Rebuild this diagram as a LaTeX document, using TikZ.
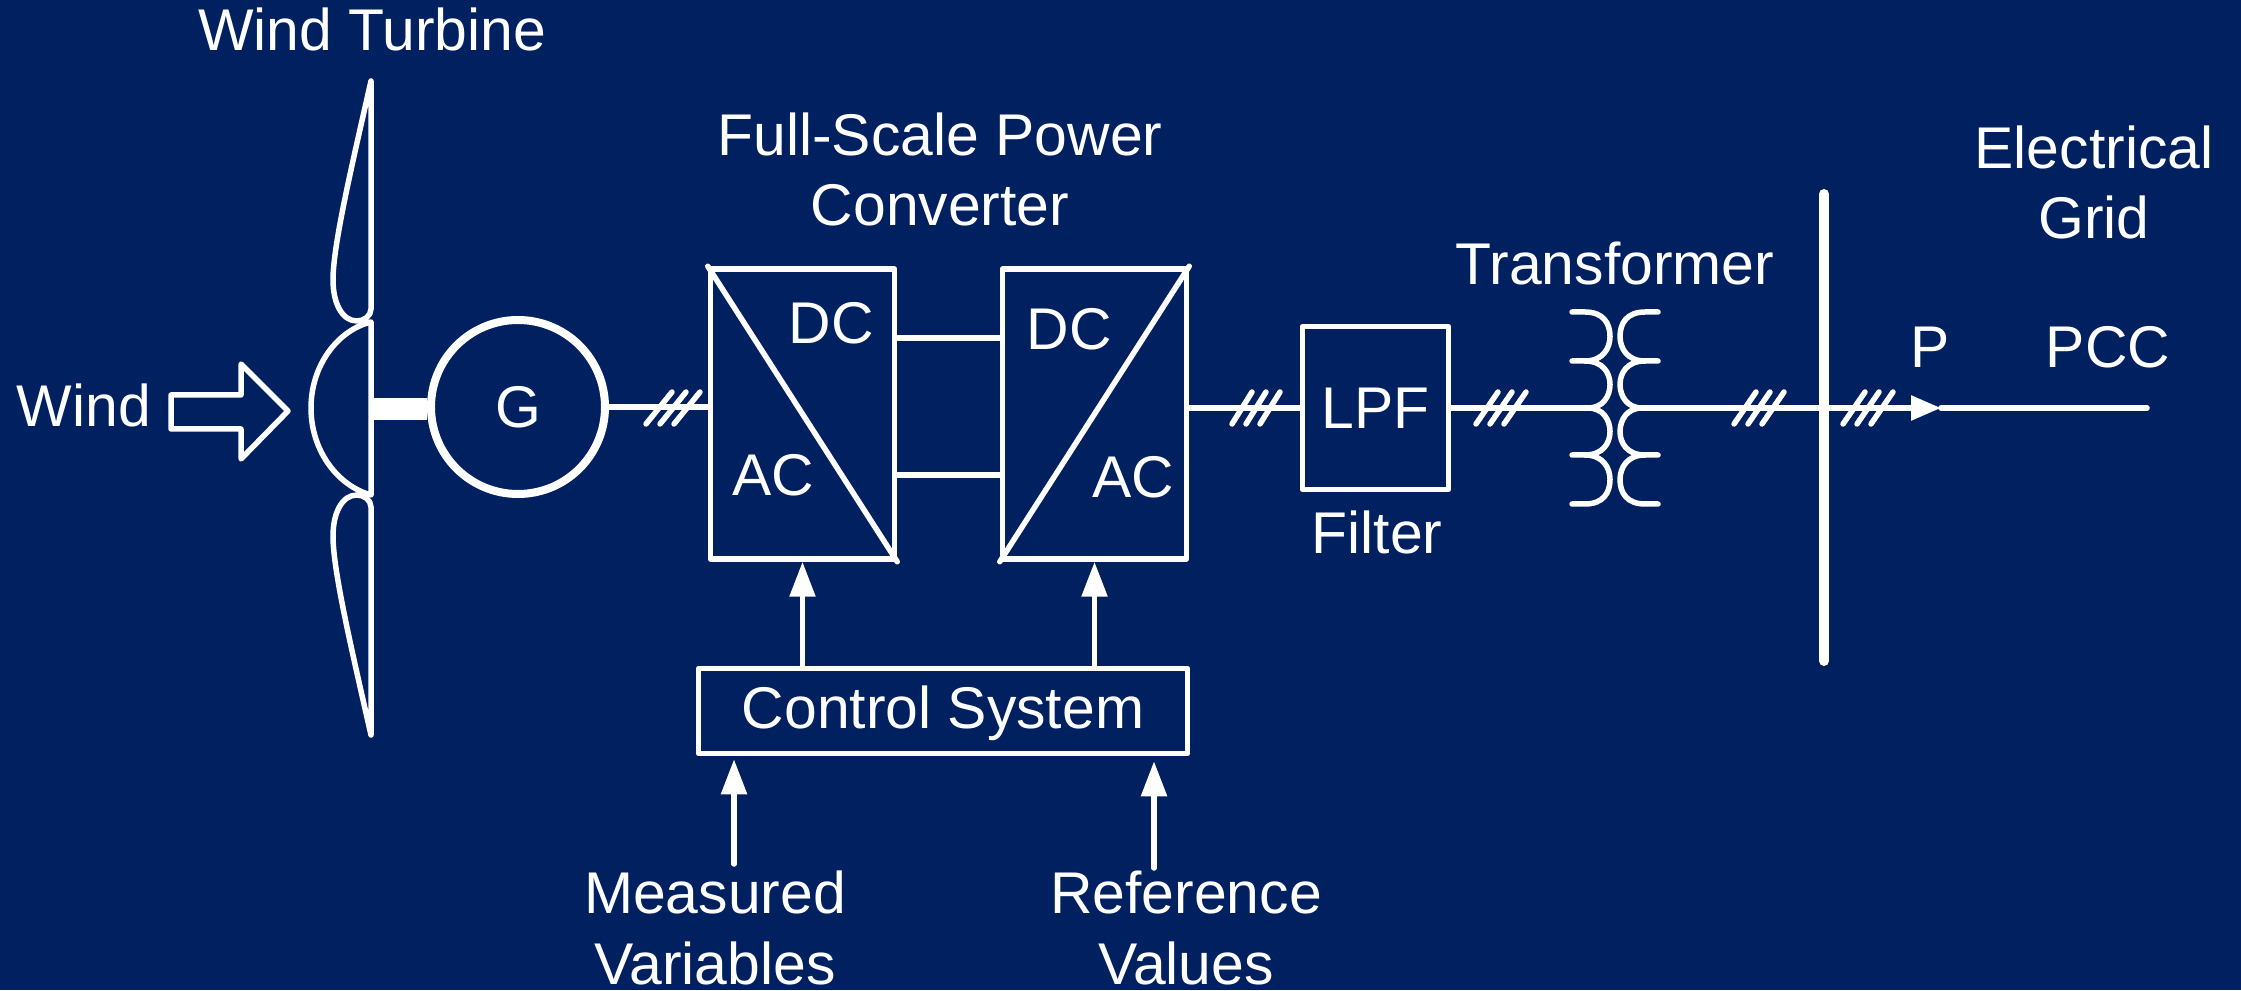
\documentclass[tikz,border=0pt]{standalone}
\usepackage{fontspec}
\setmainfont{Liberation Sans}
\usetikzlibrary{arrows.meta,positioning}
\definecolor{mBack}{RGB}{0,32,96}
\tikzset{
    wire/.style={white, line width=0.055cm, line cap=round, line join=round},
    sigarrow/.style={wire, -{Triangle[length=0.35cm,width=0.25cm]}},
    label/.style={white, inner sep=0pt, anchor=base, align=center, font=\fontsize{16.75}{20}\selectfont},
    block/.style={wire, draw, inner sep=0pt, font=\fontsize{16.75}{20}\selectfont, text=white},
}

\begin{document}
\begin{tikzpicture}
    \fill[mBack] (0,0) rectangle (22.41,9.90);
    \useasboundingbox (0,0) rectangle (22.41,9.90);

    % turbine
    \foreach \side in {1,-1} {
        \begin{scope}[shift={(0,5.82)},yscale=\side]
            \draw[wire] (3.71,3.27) -- (3.71,0.99) .. controls (3.71,0.92) and (3.64,0.87) .. (3.57,0.87)
                .. controls (3.42,0.87) and (3.33,1.05) .. (3.33,1.28)
                .. controls (3.33,1.63) and (3.52,2.43) .. (3.71,3.27);
        \end{scope}
    }
    \draw[wire] (3.71,6.68) .. controls (3.38,6.60) and (3.11,6.25) .. (3.11,5.82)
        .. controls (3.11,5.39) and (3.38,5.04) .. (3.71,4.95) -- cycle;
    \coordinate (hubC) at (3.71,5.81);
    \draw[wire] (1.71,5.95) -- (2.41,5.95) -- (2.41,6.26) -- (2.88,5.79) -- (2.41,5.31) -- (2.41,5.61) -- (1.71,5.61) -- cycle;

    \node[block, circle, line width=0.08cm, minimum size=1.74cm] (gen) at (5.18,5.83) {G};
    \draw[white, line width=0.22cm] (hubC) -- (hubC -| gen.west);

    % converter
    \node[block, minimum width=1.84cm, minimum height=2.90cm] (convA) at (8.025,5.76) {};
    \node[block, minimum width=1.84cm, minimum height=2.90cm] (convB) at (10.945,5.76) {};
    \draw[wire] (convA.north west) -- (convA.south east);
    \draw[wire] (convB.south west) -- (convB.north east);
    \node[block, minimum width=1.46cm, minimum height=1.63cm] (lpf) at (13.755,5.82) {LPF};
    \node[block, minimum width=4.89cm, minimum height=0.85cm, text depth=2pt] (ctrl) at (9.43,2.79) {Control System};

    \node[label] (windT) at (0.84,5.63) {Wind};
    \node[label] (turbT) at (3.72,9.39) {Wind Turbine};
    \node[label] (convT) at (9.40,7.64) {Full-Scale Power\\Converter};
    \node[label] (gridT) at (20.94,7.51) {Electrical\\Grid};
    \node[label] (tranT) at (16.15,7.05) {Transformer};
    \node[label] (filtT) at (13.77,4.37) {Filter};
    \node[label] (powT) at (19.30,6.22) {P};
    \node[label] (pccT) at (21.08,6.22) {PCC};
    \node[label] (dcA) at (8.31,6.46) {DC};
    \node[label] (acA) at (7.735,4.94) {AC};
    \node[label] (dcB) at (10.69,6.40) {DC};
    \node[label] (acB) at (11.33,4.92) {AC};
    \node[label] (measT) at (7.15,0.06) {Measured\\Variables};
    \node[label] (refT) at (11.86,0.06) {Reference\\Values};

    % transformer windings
    \foreach \sx in {1,-1} {
        \foreach \sy in {1,-1} {
            \begin{scope}[shift={(16.15,5.82)},xscale=\sx,yscale=\sy]
                \draw[wire] (-0.43,0.96) -- (-0.30,0.96) .. controls (-0.12,0.96) and (-0.05,0.85) .. (-0.05,0.715)
                    .. controls (-0.05,0.60) and (-0.12,0.47) .. (-0.30,0.47) -- (-0.43,0.47);
                \draw[wire] (-0.30,0.47) .. controls (-0.12,0.47) and (-0.05,0.35) .. (-0.05,0.235)
                    .. controls (-0.05,0.12) and (-0.12,0) .. (-0.27,0);
            \end{scope}
        }
    }
    \coordinate (txIn) at (15.88,5.82);
    \coordinate (txOut) at (16.42,5.82);
    \coordinate (pTip) at (19.41,5.82);
    \coordinate (pccEnd) at (21.47,5.82);
    \coordinate (busTop) at (18.24,7.96);
    \coordinate (busBot) at (18.24,3.29);
    \coordinate (linkTop) at (9.50,6.52);
    \coordinate (linkBot) at (9.50,5.15);
    \coordinate (measIn) at (7.34,1.26);
    \coordinate (refIn) at (11.54,1.22);

    \draw[wire] (gen.east) -- (gen.east -| convA.west);
    \draw[wire] (linkTop -| convA.east) -- (linkTop -| convB.west);
    \draw[wire] (linkBot -| convA.east) -- (linkBot -| convB.west);
    \draw[wire] (lpf.west -| convB.east) -- (lpf.west);
    \draw[wire] (lpf.east) -- (txIn);
    \draw[wire, -{Triangle[length=0.30cm,width=0.24cm]}] (txOut) -- (pTip);
    \draw[wire] (pTip) -- (pccEnd);
    \draw[wire, line width=0.10cm] (busTop) -- (busBot);
    \draw[sigarrow] (convA.south |- ctrl.north) -- (convA.south);
    \draw[sigarrow] (convB.south |- ctrl.north) -- (convB.south);
    \draw[sigarrow, shorten >=0.03cm] (measIn) -- (measIn |- ctrl.south);
    \draw[sigarrow, shorten >=0.05cm] (refIn) -- (refIn |- ctrl.south);

    % three phase marks
    \foreach \gx/\dx in {6.73/0.13,12.56/0.10,15.01/0.11,17.59/0.11,18.68/0.11} {
        \foreach \k in {-1,0,1} {
            \draw[wire] (\gx+\k*0.14-\dx,5.66) -- (\gx+\k*0.14+\dx,5.98);
        }
    }
\end{tikzpicture}
\end{document}
